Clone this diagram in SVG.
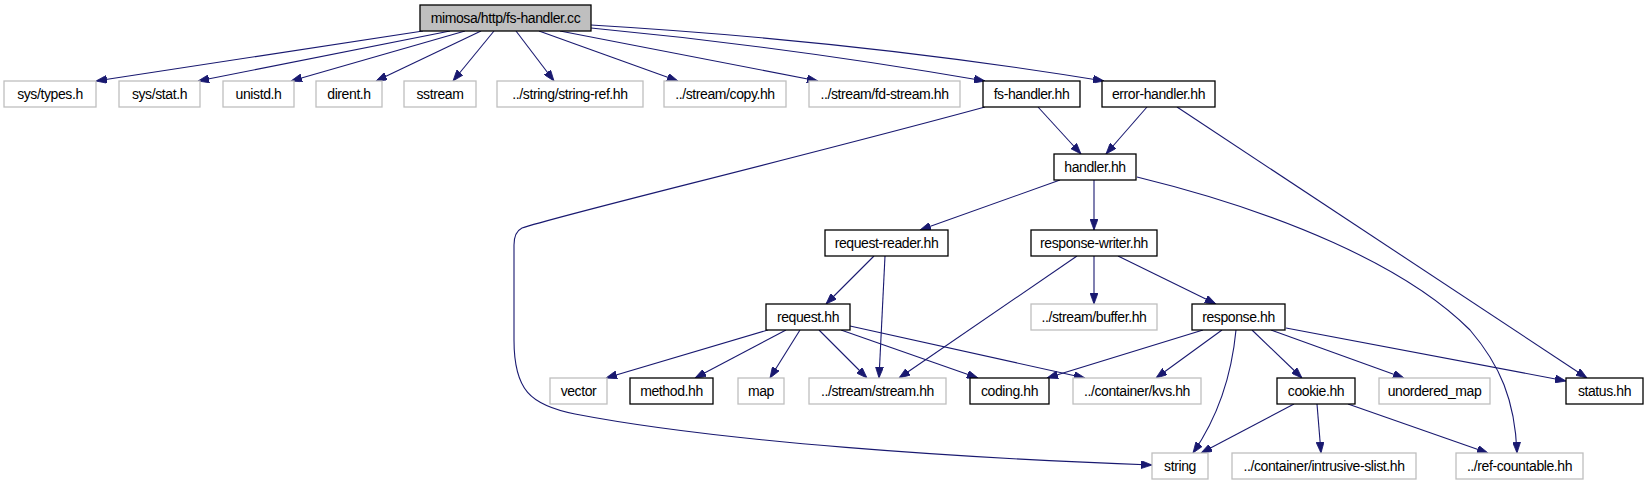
<svg xmlns="http://www.w3.org/2000/svg" width="1647" height="485" viewBox="0 0 1647 485">
<style>
.doc rect{fill:#fff;stroke:#000;stroke-width:1.3}
.ext rect{fill:#fff;stroke:#bfbfbf;stroke-width:1.3}
.root rect{fill:#bfbfbf;stroke:#000;stroke-width:1.3}
text{font-family:"Liberation Sans",Arial,sans-serif;font-size:14px;letter-spacing:-0.4px;fill:#000;text-anchor:middle}
#edges path{fill:none;stroke:#191970;stroke-width:1.1;marker-end:url(#a)}
</style>
<defs>
<marker id="a" markerWidth="11" markerHeight="8" refX="11" refY="4" orient="auto" markerUnits="userSpaceOnUse"><path d="M0,0 L11,4 L0,8 z" fill="#191970" stroke="#191970" stroke-width="0.8"/></marker>
</defs>
<rect width="1647" height="485" fill="#fff"/>
<g id="edges">
<path d="M423,31 L96,81"/>
<path d="M450,31 L198,81"/>
<path d="M465,31 L291,81"/>
<path d="M481,31 L376,81"/>
<path d="M494,31 L453,81"/>
<path d="M516,31 L554,81"/>
<path d="M539,31 L678,81"/>
<path d="M560,31 L818,81"/>
<path d="M591,28 Q790,47 985,81"/>
<path d="M591,25 Q860,41 1104,81"/>
<path d="M1038,107 L1081,154"/>
<path d="M1147,107 L1106,154"/>
<path d="M985,107 C790,160 560,215 522,228 Q514,232 514,245 L514,340 C514,390 530,405 575,414 C720,442 960,458 1152,465"/>
<path d="M1177,107 L1587,378"/>
<path d="M1060,180 L920,230"/>
<path d="M1094,180 L1094,230"/>
<path d="M1137,177 C1280,212 1405,265 1470,330 C1500,365 1515,400 1517,453"/>
<path d="M874,256 L826,304"/>
<path d="M885,256 L879,378"/>
<path d="M1094,256 L1094,304"/>
<path d="M1077,256 L899,378"/>
<path d="M1118,256 L1216,304"/>
<path d="M768,330 L606,378"/>
<path d="M786,330 L695,378"/>
<path d="M800,330 L770,378"/>
<path d="M819,330 L867,378"/>
<path d="M841,330 L978,378"/>
<path d="M850,326 L1085,378"/>
<path d="M1203,330 L1047,378"/>
<path d="M1222,330 L1156,378"/>
<path d="M1236,330 C1232,372 1220,414 1193,453"/>
<path d="M1252,330 L1302,378"/>
<path d="M1271,330 L1404,378"/>
<path d="M1286,328 L1566,381"/>
<path d="M1294,404 L1201,453"/>
<path d="M1317,404 L1321,453"/>
<path d="M1348,404 L1488,453"/>
</g>
<g id="n_root" class="root"><rect x="420" y="5" width="171" height="26"/><text x="505.5" y="23">mimosa/http/fs-handler.cc</text></g>
<g id="n_systypes" class="ext"><rect x="4" y="81" width="92" height="26"/><text x="50" y="99">sys/types.h</text></g>
<g id="n_sysstat" class="ext"><rect x="119" y="81" width="81" height="26"/><text x="159.5" y="99">sys/stat.h</text></g>
<g id="n_unistd" class="ext"><rect x="223" y="81" width="71" height="26"/><text x="258.5" y="99">unistd.h</text></g>
<g id="n_dirent" class="ext"><rect x="316" y="81" width="66" height="26"/><text x="349" y="99">dirent.h</text></g>
<g id="n_sstream" class="ext"><rect x="404" y="81" width="72" height="26"/><text x="440" y="99">sstream</text></g>
<g id="n_stringref" class="ext"><rect x="497" y="81" width="146" height="26"/><text x="570" y="99">../string/string-ref.hh</text></g>
<g id="n_copy" class="ext"><rect x="664" y="81" width="122" height="26"/><text x="725" y="99">../stream/copy.hh</text></g>
<g id="n_fdstream" class="ext"><rect x="809" y="81" width="151" height="26"/><text x="884.5" y="99">../stream/fd-stream.hh</text></g>
<g id="n_fshandler" class="doc"><rect x="983" y="81" width="97" height="26"/><text x="1031.5" y="99">fs-handler.hh</text></g>
<g id="n_errorhandler" class="doc"><rect x="1102" y="81" width="113" height="26"/><text x="1158.5" y="99">error-handler.hh</text></g>
<g id="n_handler" class="doc"><rect x="1054" y="154" width="82" height="26"/><text x="1095" y="172">handler.hh</text></g>
<g id="n_requestreader" class="doc"><rect x="825" y="230" width="123" height="26"/><text x="886.5" y="248">request-reader.hh</text></g>
<g id="n_responsewriter" class="doc"><rect x="1031" y="230" width="126" height="26"/><text x="1094" y="248">response-writer.hh</text></g>
<g id="n_request" class="doc"><rect x="766" y="304" width="84" height="26"/><text x="808" y="322">request.hh</text></g>
<g id="n_buffer" class="ext"><rect x="1031" y="304" width="126" height="26"/><text x="1094" y="322">../stream/buffer.hh</text></g>
<g id="n_response" class="doc"><rect x="1192" y="304" width="93" height="26"/><text x="1238.5" y="322">response.hh</text></g>
<g id="n_vector" class="ext"><rect x="550" y="378" width="57" height="26"/><text x="578.5" y="396">vector</text></g>
<g id="n_method" class="doc"><rect x="630" y="378" width="83" height="26"/><text x="671.5" y="396">method.hh</text></g>
<g id="n_map" class="ext"><rect x="738" y="378" width="46" height="26"/><text x="761" y="396">map</text></g>
<g id="n_stream" class="ext"><rect x="809" y="378" width="137" height="26"/><text x="877.5" y="396">../stream/stream.hh</text></g>
<g id="n_coding" class="doc"><rect x="970" y="378" width="79" height="26"/><text x="1009.5" y="396">coding.hh</text></g>
<g id="n_kvs" class="ext"><rect x="1073" y="378" width="128" height="26"/><text x="1137" y="396">../container/kvs.hh</text></g>
<g id="n_cookie" class="doc"><rect x="1277" y="378" width="78" height="26"/><text x="1316" y="396">cookie.hh</text></g>
<g id="n_unorderedmap" class="ext"><rect x="1379" y="378" width="111" height="26"/><text x="1434.5" y="396">unordered_map</text></g>
<g id="n_status" class="doc"><rect x="1566" y="378" width="77" height="26"/><text x="1604.5" y="396">status.hh</text></g>
<g id="n_string" class="ext"><rect x="1152" y="453" width="56" height="26"/><text x="1180" y="471">string</text></g>
<g id="n_intrusive" class="ext"><rect x="1232" y="453" width="184" height="26"/><text x="1324" y="471">../container/intrusive-slist.hh</text></g>
<g id="n_refcountable" class="ext"><rect x="1456" y="453" width="127" height="26"/><text x="1519.5" y="471">../ref-countable.hh</text></g>
</svg>
